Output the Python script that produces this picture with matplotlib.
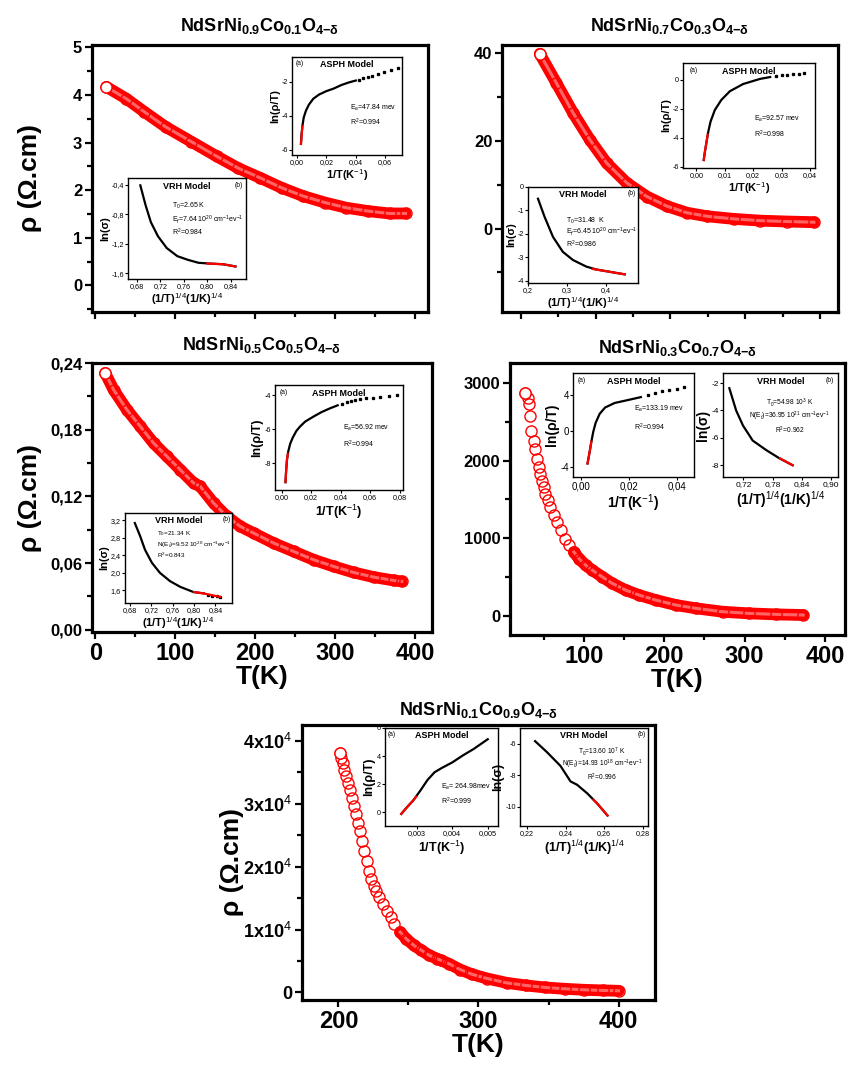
import matplotlib
matplotlib.use('Agg')
import matplotlib.pyplot as plt
from matplotlib.ticker import MultipleLocator

plt.rcParams['font.family'] = ['Liberation Sans', 'DejaVu Sans']
plt.rcParams['mathtext.fontset'] = 'custom'
plt.rcParams['mathtext.rm'] = 'Liberation Sans'
plt.rcParams['mathtext.it'] = 'Liberation Sans:italic'
plt.rcParams['mathtext.bf'] = 'Liberation Sans:bold'
plt.rcParams['mathtext.sf'] = 'Liberation Sans'

W, H = 853, 1071

# ---------------- main resistivity curves ----------------
t1 = [14, 39, 61, 88, 120, 152, 179, 206, 233, 260, 287, 314, 341, 368, 388]
r1 = [4.17, 3.92, 3.65, 3.33, 3.02, 2.71, 2.46, 2.26, 2.05, 1.875, 1.74, 1.63, 1.56, 1.51, 1.51]

t2 = [25.5, 47.8, 70.1, 92.5, 114.9, 141.7, 168.5, 195.3, 222.1, 248.9, 284.6, 320.4, 356.2, 391.8]
r2 = [39.8, 33.1, 26.3, 20.2, 14.9, 10.4, 7.3, 5.1, 3.6, 2.8, 2.2, 1.8, 1.6, 1.45]

t3 = [12.5, 22.9, 39.6, 56.3, 72.9, 89.6, 106.3, 122.9, 131.3, 147.9, 164.6, 181.3, 197.9,
      222.9, 247.9, 272.9, 297.9, 322.9, 347.9, 372.9, 383.3]
r3 = [0.231, 0.216, 0.198, 0.183, 0.168, 0.156, 0.144, 0.132, 0.129, 0.114, 0.102, 0.093, 0.087,
      0.078, 0.0705, 0.063, 0.057, 0.0516, 0.0474, 0.0444, 0.0435]

t4 = [27.1, 30.4, 32.1, 33.4, 34.6, 37.5, 39.6, 41.6, 43.8, 45.9, 47.9, 50.0, 52.1, 55.4, 58.4,
      62.5, 66.6, 70.9, 76.3, 81.3, 87.5, 93.8, 102.1, 110.4, 122.9, 135.4, 152.1, 168.8, 189.6,
      214.6, 239.6, 272.9, 306.0, 339.6, 372.9]
r4 = [2876, 2812, 2727, 2577, 2385, 2256, 2150, 2022, 1914, 1829, 1744, 1658, 1573, 1487, 1401,
      1295, 1209, 1103, 996, 910, 824, 740, 654, 590, 504, 419, 333, 269, 205,
      141, 99, 55, 34, 21, 13]

t5 = [200.8, 201.9, 203.0, 204.1, 205.5, 206.9, 208.3, 209.7, 211.0, 212.4, 213.8, 215.2, 216.8,
      218.5, 220.1, 221.8, 223.4, 225.1, 226.8, 229.0, 231.7, 234.5, 237.2, 240.0, 244.1, 248.3,
      253.8, 259.3, 264.8, 270.3, 273.1, 278.6, 286.9, 295.2, 306.2, 320.0, 333.8, 347.6, 361.4,
      375.2, 389.0, 400.0]
r5 = [38050, 37260, 36470, 35410, 34360, 33310, 32250, 30940, 29620, 28300, 26980, 25670, 24080,
      22500, 20920, 19340, 18020, 16970, 16180, 15130, 14070, 13020, 11960, 10910, 9590, 8540,
      7480, 6690, 5900, 5380, 5110, 4590, 3640, 2900, 2210, 1530, 1110, 790, 580,
      420, 320, 260]

titles = [r"$\mathbf{NdSrNi_{0.9}Co_{0.1}O_{4{-}\delta}}$",
          r"$\mathbf{NdSrNi_{0.7}Co_{0.3}O_{4{-}\delta}}$",
          r"$\mathbf{NdSrNi_{0.5}Co_{0.5}O_{4{-}\delta}}$",
          r"$\mathbf{NdSrNi_{0.3}Co_{0.7}O_{4{-}\delta}}$",
          r"$\mathbf{NdSrNi_{0.1}Co_{0.9}O_{4{-}\delta}}$"]

y1_ticks, y1_labels = [0, 1, 2, 3, 4, 5], ['0', '1', '2', '3', '4', '5']
y2_ticks, y2_labels = [0, 20, 40], ['0', '20', '40']
y3_ticks, y3_labels = [0, 0.06, 0.12, 0.18, 0.24], ['0,00', '0,06', '0,12', '0,18', '0,24']
y4_ticks, y4_labels = [0, 1000, 2000, 3000], ['0', '1000', '2000', '3000']
y5_ticks = [0, 10000, 20000, 30000, 40000]
y5_labels = ['0', r'1x10$^4$', r'2x10$^4$', r'3x10$^4$', r'4x10$^4$']
x3_ticks, x3_labels = [0, 100, 200, 300, 400], ['0', '100', '200', '300', '400']
x4_ticks, x4_labels = [100, 200, 300, 400], ['100', '200', '300', '400']
x5_ticks, x5_labels = [200, 300, 400], ['200', '300', '400']

# ---------------- insets: ASPH (a) and VRH (b) ----------------
a1_x = [0.0026, 0.003, 0.0036, 0.0045, 0.006, 0.008, 0.011, 0.015, 0.02, 0.025, 0.03, 0.035, 0.04]
a1_y = [-5.65, -5.1, -4.6, -4.1, -3.7, -3.35, -3.0, -2.75, -2.55, -2.4, -2.2, -2.05, -1.93]
a1_fx, a1_fy = [0.0026, 0.0036], [-5.65, -4.6]
a1_dx = [0.042, 0.045, 0.048, 0.051, 0.055, 0.059, 0.064, 0.069]
a1_dy = [-1.88, -1.8, -1.72, -1.65, -1.55, -1.45, -1.33, -1.2]

v1_x = [0.686, 0.695, 0.704, 0.716, 0.731, 0.749, 0.767, 0.785, 0.803, 0.827, 0.848]
v1_y = [-0.41, -0.68, -0.91, -1.10, -1.26, -1.37, -1.42, -1.46, -1.47, -1.48, -1.51]
v1_fx, v1_fy = [0.80, 0.827, 0.848], [-1.47, -1.48, -1.51]

a2_x = [0.0026, 0.003, 0.0035, 0.0042, 0.005, 0.0065, 0.0088, 0.0118, 0.0165, 0.0224, 0.026]
a2_y = [-5.55, -5.0, -4.4, -3.6, -2.9, -2.1, -1.4, -0.8, -0.3, 0.05, 0.18]
a2_fx, a2_fy = [0.0026, 0.003, 0.0035, 0.004], [-5.55, -5.0, -4.4, -3.8]
a2_dx = [0.028, 0.030, 0.032, 0.034, 0.036, 0.038]
a2_dy = [0.24, 0.29, 0.33, 0.37, 0.41, 0.45]

v2_x = [0.2255, 0.2425, 0.2638, 0.289, 0.315, 0.349, 0.374, 0.408, 0.447]
v2_y = [-0.5, -1.28, -2.13, -2.77, -3.12, -3.40, -3.52, -3.62, -3.73]
v2_fx, v2_fy = [0.365, 0.408, 0.447], [-3.50, -3.62, -3.73]

a3_x = [0.0026, 0.003, 0.0036, 0.0045, 0.0058, 0.0075, 0.0100, 0.0124, 0.016, 0.0214, 0.027, 0.0327, 0.038]
a3_y = [-9.1, -8.5, -7.8, -7.3, -6.85, -6.5, -6.1, -5.85, -5.55, -5.27, -5.0, -4.78, -4.6]
a3_fx, a3_fy = [0.0026, 0.003, 0.0036, 0.0042], [-9.1, -8.5, -7.8, -7.45]
a3_dx = [0.041, 0.044, 0.047, 0.05, 0.053, 0.057, 0.062, 0.067, 0.073, 0.078]
a3_dy = [-4.5, -4.42, -4.36, -4.3, -4.25, -4.2, -4.15, -4.1, -4.05, -4.02]

v3_x = [0.689, 0.699, 0.708, 0.721, 0.736, 0.755, 0.774, 0.799, 0.818]
v3_y = [3.14, 2.84, 2.53, 2.23, 2.0, 1.81, 1.68, 1.56, 1.53]
v3_fx, v3_fy = [0.80, 0.818, 0.837, 0.849], [1.56, 1.53, 1.48, 1.45]
v3_dx, v3_dy = [0.826, 0.834, 0.842, 0.849], [1.50, 1.47, 1.46, 1.44]

a4_x = [0.0026, 0.0035, 0.0042, 0.005, 0.006, 0.0077, 0.010, 0.014, 0.02, 0.025]
a4_y = [-3.6, -2.3, -1.2, -0.1, 0.9, 1.9, 2.6, 3.1, 3.45, 3.75]
a4_fx, a4_fy = [0.0026, 0.0035, 0.0042], [-3.6, -2.3, -1.2]
a4_dx = [0.028, 0.031, 0.034, 0.037, 0.040, 0.043]
a4_dy = [4.0, 4.2, 4.4, 4.55, 4.7, 4.85]

v4_x = [0.691, 0.705, 0.719, 0.739, 0.767, 0.794, 0.821]
v4_y = [-2.37, -4.0, -5.1, -6.2, -6.9, -7.5, -8.0]
v4_fx, v4_fy = [0.795, 0.808, 0.821], [-7.5, -7.75, -8.0]

a5_x = [0.00256, 0.0027, 0.0029, 0.0031, 0.0033, 0.0035, 0.0037, 0.0040, 0.0043, 0.0046, 0.0050]
a5_y = [-0.12, 0.3, 0.85, 1.55, 2.3, 2.85, 3.15, 3.55, 4.05, 4.5, 5.2]
a5_fx, a5_fy = [0.00256, 0.0027, 0.0029, 0.00298], [-0.12, 0.3, 0.85, 1.1]

v5_x = [0.2243, 0.2304, 0.2374, 0.2426, 0.246, 0.2513, 0.2565, 0.2617]
v5_y = [-5.85, -6.54, -7.41, -8.39, -8.6, -9.15, -9.8, -10.54]
v5_fx, v5_fy = [0.2545, 0.2565, 0.2617], [-9.55, -9.8, -10.54]

fig = plt.figure(figsize=(W / 100, H / 100), dpi=100)


def px_axes(x0, y0, x1, y1):
    return fig.add_axes([x0 / W, 1 - y1 / H, (x1 - x0) / W, (y1 - y0) / H])


def main_panel(box, T, rho, xlim, ylim, yt, ytl, ymin, xt, xtl, xmin, title, title_y,
               band_from=0, ylab_x=None, xlab=True, ytick_fs=12):
    ax = px_axes(*box)
    ax.plot(T[band_from:], rho[band_from:], color='red', lw=8.5, solid_capstyle='round', zorder=2)
    ax.plot(T[band_from:], rho[band_from:], color='white', lw=2.2, alpha=0.4, zorder=3)
    ax.plot(T, rho, 'o', mfc='none', mec='red', ms=8, mew=1.0, zorder=4)
    ax.plot(T[:1], rho[:1], 'o', mfc='white', mec='red', ms=8, mew=1.0, zorder=5)
    ax.set_xlim(*xlim)
    ax.set_ylim(*ylim)
    for s in ax.spines.values():
        s.set_linewidth(2.3)
    ax.set_yticks(yt)
    ax.set_yticklabels(ytl, fontsize=ytick_fs, fontweight='bold')
    ax.yaxis.set_minor_locator(MultipleLocator(ymin))
    ax.set_xticks(xt)
    ax.set_xticklabels(xtl if xtl else [], fontsize=17, fontweight='bold')
    ax.xaxis.set_minor_locator(MultipleLocator(xmin))
    ax.tick_params(which='major', direction='out', length=5, width=1.6, top=False, right=False, pad=2)
    ax.tick_params(which='minor', direction='out', length=3.5, width=1.6, top=False, right=False)
    if xlab:
        ax.set_xlabel('T(K)', fontsize=19, fontweight='bold', labelpad=0)
    cx = (box[0] + box[2]) / 2
    fig.text(cx / W, 1 - title_y / H, title, fontsize=13, ha='center', va='center')
    if ylab_x is not None:
        fig.text(ylab_x / W, 1 - (box[1] + box[3]) / 2 / H, u'\u03c1 (\u03a9.cm)', rotation=90,
                 fontsize=19, fontweight='bold', ha='center', va='center')
    return ax


def inset(box, x, y, fx, fy, xlim, ylim, xt, xtl, yt, ytl, xlabel, ylabel, name, tag, tag_x,
          notes, note_x, note_ys, note_ha='left', dx=None, dy=None, lab_fs=8, tk_fs=5.2, note_fs=5.0):
    ax = px_axes(*box)
    ax.plot(x, y, color='black', lw=1.6, zorder=2)
    if dx is not None:
        ax.plot(dx, dy, 's', color='black', ms=1.4, zorder=2)
    ax.plot(fx, fy, color='red', lw=1.6, zorder=3)
    ax.set_xlim(*xlim)
    ax.set_ylim(*ylim)
    for s in ax.spines.values():
        s.set_linewidth(1.0)
    ax.set_xticks(xt)
    ax.set_xticklabels(xtl, fontsize=tk_fs)
    ax.set_yticks(yt)
    ax.set_yticklabels(ytl, fontsize=tk_fs)
    ax.tick_params(direction='out', length=2, width=0.8, pad=1)
    ax.set_xlabel(xlabel, fontsize=lab_fs, fontweight='bold', labelpad=1)
    ax.set_ylabel(ylabel, fontsize=lab_fs, fontweight='bold', labelpad=1)
    ax.text(0.5, 0.92, name, transform=ax.transAxes, fontsize=6.5, fontweight='bold',
            ha='center', va='center')
    ax.text(tag_x, 0.93, tag, transform=ax.transAxes, fontsize=4.8, ha='center', va='center')
    for txt, ny in zip(notes, note_ys):
        ax.text(note_x, ny, txt, transform=ax.transAxes, fontsize=note_fs, ha=note_ha, va='center')
    return ax


# panel 1
main_panel((92, 45, 428, 312), t1, r1, (-4, 416), (-0.56, 5.05), y1_ticks, y1_labels, 0.5,
           x3_ticks, None, 50, titles[0], 26, ylab_x=30, xlab=False)
inset((292, 57, 402, 155), a1_x, a1_y, a1_fx, a1_fy, (-0.0035, 0.0715), (-6.3, -0.55),
      [0, 0.02, 0.04, 0.06], ['0,00', '0,02', '0,04', '0,06'], [-6, -4, -2], ['-6', '-4', '-2'],
      r'1/T(K$^{-1}$)', u'ln(\u03c1/T)', 'ASPH Model', '(a)', 0.07,
      [r'E$_a$=47.84 mev', r'R$^2$=0.994'], 0.53, [0.48, 0.33], dx=a1_dx, dy=a1_dy)
inset((128, 178, 246, 279), v1_x, v1_y, v1_fx, v1_fy, (0.665, 0.866), (-1.68, -0.31),
      [0.68, 0.72, 0.76, 0.80, 0.84], ['0,68', '0,72', '0,76', '0,80', '0,84'],
      [-1.6, -1.2, -0.8, -0.4], ['-1,6', '-1,2', '-0,8', '-0,4'],
      r'(1/T)$^{1/4}$(1/K)$^{1/4}$', u'ln(\u03c3)', 'VRH Model', '(b)', 0.94,
      [r'T$_0$=2.65 K', r'E$_f$=7.64 10$^{20}$ cm$^{-1}$ev$^{-1}$', r'R$^2$=0.984'],
      0.37, [0.72, 0.59, 0.46])

# panel 2
main_panel((502, 45, 838, 312), t2, r2, (-25, 424), (-19, 41.8), y2_ticks, y2_labels, 10,
           x3_ticks, None, 50, titles[1], 26, xlab=False)
inset((683, 63, 815, 168), a2_x, a2_y, a2_fx, a2_fy, (-0.0047, 0.0418), (-6.1, 1.15),
      [0, 0.01, 0.02, 0.03, 0.04], ['0,00', '0,01', '0,02', '0,03', '0,04'],
      [-6, -4, -2, 0], ['-6', '-4', '-2', '0'],
      r'1/T(K$^{-1}$)', u'ln(\u03c1/T)', 'ASPH Model', '(a)', 0.08,
      [r'E$_a$=92.57 mev', r'R$^2$=0.998'], 0.54, [0.47, 0.32], dx=a2_dx, dy=a2_dy)
inset((528, 187, 638, 283), v2_x, v2_y, v2_fx, v2_fy, (0.2, 0.481), (-4.1, 0.0),
      [0.2, 0.3, 0.4], ['0,2', '0,3', '0,4'], [-4, -3, -2, -1, 0], ['-4', '-3', '-2', '-1', '0'],
      r'(1/T)$^{1/4}$(1/K)$^{1/4}$', u'ln(\u03c3)', 'VRH Model', '(b)', 0.94,
      [r'T$_0$=31.48  K', r'E$_f$=6.45 10$^{20}$ cm$^{-1}$ev$^{-1}$', r'R$^2$=0.986'],
      0.35, [0.65, 0.53, 0.40])

# panel 3
main_panel((92, 363, 432, 632), t3, r3, (-4, 421), (-0.002, 0.24), y3_ticks, y3_labels, 0.03,
           x3_ticks, x3_labels, 50, titles[2], 345, ylab_x=30)
inset((275, 385, 403, 490), a3_x, a3_y, a3_fx, a3_fy, (-0.0045, 0.0823), (-9.56, -3.41),
      [0, 0.02, 0.04, 0.06, 0.08], ['0,00', '0,02', '0,04', '0,06', '0,08'],
      [-8, -6, -4], ['-8', '-6', '-4'],
      r'1/T(K$^{-1}$)', u'ln(\u03c1/T)', 'ASPH Model', '(a)', 0.07,
      [r'E$_a$=56.92 mev', r'R$^2$=0.994'], 0.53, [0.59, 0.43], dx=a3_dx, dy=a3_dy, lab_fs=9)
inset((125, 513, 232, 603), v3_x, v3_y, v3_fx, v3_fy, (0.6706, 0.871), (1.31, 3.37),
      [0.68, 0.72, 0.76, 0.80, 0.84], ['0,68', '0,72', '0,76', '0,80', '0,84'],
      [1.6, 2.0, 2.4, 2.8, 3.2], ['1,6', '2,0', '2,4', '2,8', '3,2'],
      r'(1/T)$^{1/4}$(1/K)$^{1/4}$', u'ln(\u03c3)', 'VRH Model', '(b)', 0.95,
      [r'T$_0$=21.34 K', r'N(E$_f$)=9.52 10$^{20}$ cm$^{-1}$ev$^{-1}$', r'R$^2$=0.843'],
      0.30, [0.77, 0.65, 0.53], dx=v3_dx, dy=v3_dy, note_fs=4.6)

# panel 4
main_panel((510, 363, 845, 635), t4, r4, (8, 425), (-244, 3256), y4_ticks, y4_labels, 500,
           x4_ticks, x4_labels, 50, titles[3], 348, band_from=20)
inset((573, 373, 694, 477), a4_x, a4_y, a4_fx, a4_fy, (-0.0035, 0.0473), (-5.1, 6.42),
      [0, 0.02, 0.04], ['0,00', '0,02', '0,04'], [-4, 0, 4], ['-4', '0', '4'],
      r'1/T(K$^{-1}$)', u'ln(\u03c1/T)', 'ASPH Model', '(a)', 0.07,
      [r'E$_a$=133.19 mev', r'R$^2$=0.994'], 0.50, [0.65, 0.48], dx=a4_dx, dy=a4_dy,
      lab_fs=10, tk_fs=7)
inset((723, 373, 838, 477), v4_x, v4_y, v4_fx, v4_fy, (0.678, 0.914), (-8.86, -1.26),
      [0.72, 0.78, 0.84, 0.90], ['0,72', '0,78', '0,84', '0,90'],
      [-8, -6, -4, -2], ['-8', '-6', '-4', '-2'],
      r'(1/T)$^{1/4}$(1/K)$^{1/4}$', u'ln(\u03c3)', 'VRH Model', '(b)', 0.93,
      [r'T$_0$=54.98 10$^3$ K', r'N(E$_f$)=36.95 10$^{21}$ cm$^{-1}$ev$^{-1}$', r'R$^2$=0.962'],
      0.58, [0.71, 0.58, 0.45], note_ha='center', lab_fs=10, tk_fs=6, note_fs=4.8)

# panel 5
main_panel((302, 725, 655, 1000), t5, r5, (174, 426), (-1200, 42500), y5_ticks, y5_labels, 5000,
           x5_ticks, x5_labels, 50, titles[4], 710, band_from=24, ylab_x=232, ytick_fs=13)
inset((385, 728, 498, 826), a5_x, a5_y, a5_fx, a5_fy, (0.0021, 0.00529), (-0.98, 6.0),
      [0.003, 0.004, 0.005], ['0,003', '0,004', '0,005'], [0, 2, 4, 6], ['0', '2', '4', '6'],
      r'1/T(K$^{-1}$)', u'ln(\u03c1/T)', 'ASPH Model', '(a)', 0.06,
      [r'E$_a$= 264.98mev', r'R$^2$=0.999'], 0.50, [0.40, 0.25], lab_fs=9)
inset((520, 728, 648, 826), v5_x, v5_y, v5_fx, v5_fy, (0.2165, 0.2826), (-11.2, -5.02),
      [0.22, 0.24, 0.26, 0.28], ['0,22', '0,24', '0,26', '0,28'],
      [-10, -8, -6], ['-10', '-8', '-6'],
      r'(1/T)$^{1/4}$(1/K)$^{1/4}$', u'ln(\u03c3)', 'VRH Model', '(b)', 0.95,
      [r'T$_0$=13.60 10$^7$ K', r'N(E$_f$)=14.93 10$^{18}$ cm$^{-1}$ev$^{-1}$', r'R$^2$=0.996'],
      0.64, [0.76, 0.63, 0.50], note_ha='center', lab_fs=9, note_fs=4.8)

fig.savefig('out.png', dpi=100)
